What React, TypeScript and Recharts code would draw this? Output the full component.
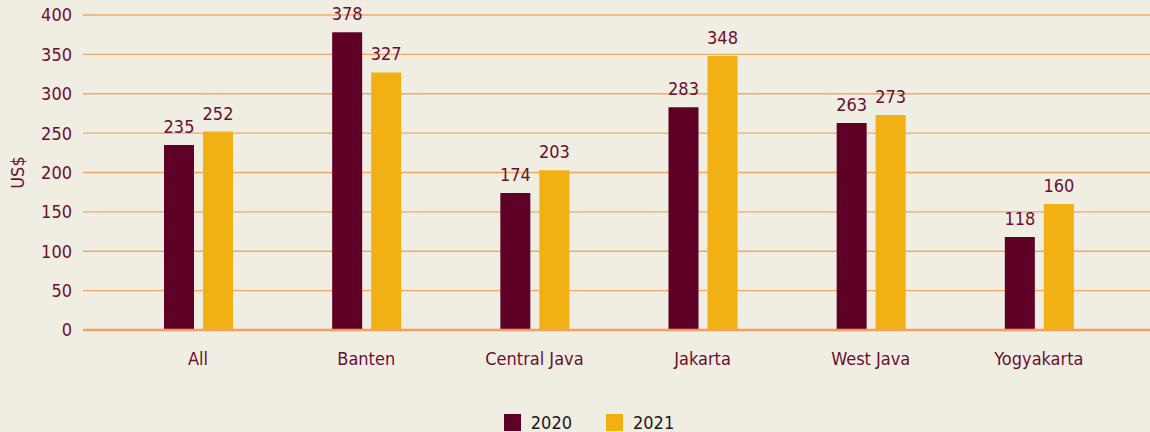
import { BarChart, Bar, XAxis, YAxis, CartesianGrid, LabelList, Legend, ReferenceLine } from 'recharts';

const regions = ['All', 'Banten', 'Central Java', 'Jakarta', 'West Java', 'Yogyakarta'];
const values2020 = [235, 378, 174, 283, 263, 118];
const values2021 = [252, 327, 203, 348, 273, 160];
const yTicks = [0, 50, 100, 150, 200, 250, 300, 350, 400];

const data = regions.map((region, i) => ({
  region,
  y2020: values2020[i],
  y2021: values2021[i],
}));

const FONT = '"DejaVu Sans Condensed", "Open Sans", sans-serif';
const FS = 18;
const MAROON = '#5f0026';
const GOLD = '#f1b114';
const TEXT = '#6a1030';

const LegendBox = () => (
  <div
    style={{
      display: 'flex',
      justifyContent: 'center',
      alignItems: 'center',
      fontFamily: FONT,
      fontSize: FS,
      color: '#1a1a1a',
      marginLeft: 28,
    }}
  >
    <span style={{ width: 17, height: 17, background: MAROON, display: 'inline-block', marginRight: 10 }} />
    <span style={{ marginRight: 34 }}>2020</span>
    <span style={{ width: 17, height: 17, background: GOLD, display: 'inline-block', marginRight: 10 }} />
    <span>2021</span>
  </div>
);

export default function App() {
  return (
    <div style={{ position: 'absolute', left: 0, top: 0, width: 1150, height: 432, background: '#f0ede3' }}>
      <BarChart
        width={1150}
        height={432}
        data={data}
        margin={{ top: 15, right: 0, bottom: 0, left: 0 }}
        barSize={30}
        barGap={9}
      >
        <CartesianGrid vertical={false} stroke="#f3a866" strokeWidth={1.3} />
        <XAxis
          dataKey="region"
          axisLine={false}
          tickLine={false}
          tickSize={0}
          tickMargin={22}
          height={82}
          padding={{ left: 31, right: 27 }}
          tick={{ fill: TEXT, fontSize: FS, fontFamily: FONT }}
        />
        <YAxis
          width={83}
          domain={[0, 400]}
          ticks={yTicks}
          axisLine={false}
          tickLine={false}
          tickSize={0}
          tickMargin={11}
          tick={{ fill: TEXT, fontSize: FS, fontFamily: FONT }}
          label={{
            value: 'US$',
            angle: -90,
            position: 'insideLeft',
            offset: 18,
            style: { fill: TEXT, fontSize: FS, fontFamily: FONT, textAnchor: 'middle' },
          }}
        />
        <ReferenceLine y={0} stroke="#f0a060" strokeWidth={2.5} />
        <Legend verticalAlign="bottom" height={20} content={<LegendBox />} />
        <Bar dataKey="y2020" name="2020" fill={MAROON} isAnimationActive={false}>
          <LabelList dataKey="y2020" position="top" fill={TEXT} fontSize={FS} fontFamily={FONT} offset={12} />
        </Bar>
        <Bar dataKey="y2021" name="2021" fill={GOLD} isAnimationActive={false}>
          <LabelList dataKey="y2021" position="top" fill={TEXT} fontSize={FS} fontFamily={FONT} offset={12} />
        </Bar>
      </BarChart>
    </div>
  );
}
